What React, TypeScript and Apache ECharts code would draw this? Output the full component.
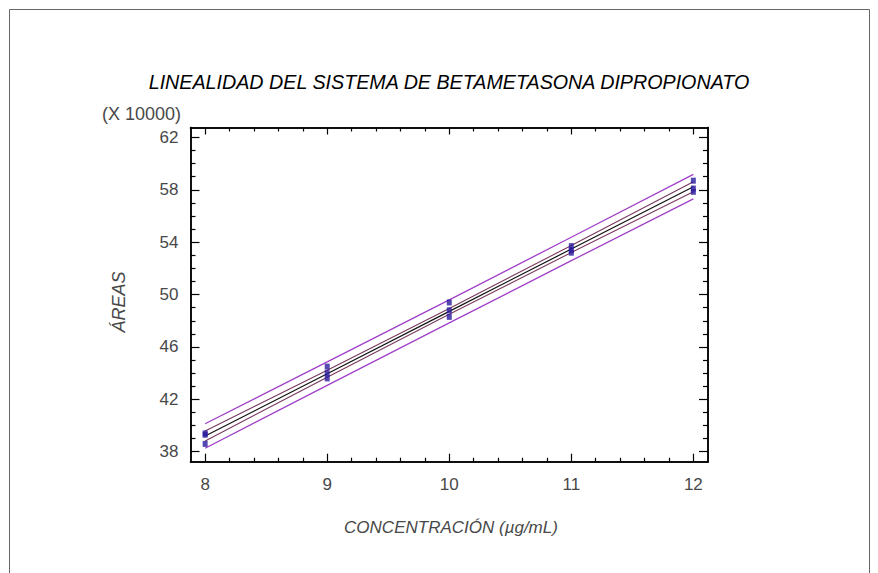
import React, { useEffect, useRef } from "react";
import * as echarts from "echarts";

// Measured data (areas in units of 10000)
const concentrations = [8, 8, 8, 9, 9, 9, 10, 10, 10, 11, 11, 11, 12, 12, 12];
const areas = [39.4, 39.3, 38.6, 44.5, 44.0, 43.6, 49.4, 48.8, 48.3, 53.7, 53.4, 53.2, 58.7, 58.1, 57.85];

// Fitted model and limits, read at each concentration
const lineX = [8, 9, 10, 11, 12];
const fitted = [39.2, 43.96, 48.72, 53.48, 58.24];
const lowerConf = [38.82, 43.69, 48.5, 53.21, 57.86];
const upperConf = [39.58, 44.23, 48.94, 53.75, 58.62];
const lowerPred = [38.27, 43.07, 47.84, 52.59, 57.31];
const upperPred = [40.14, 44.86, 49.6, 54.38, 59.18];

// Tick labels
const xMajor = [8, 9, 10, 11, 12];
const yMajor = [38, 42, 46, 50, 54, 58, 62];

const FONT = "'Liberation Sans', Arial, sans-serif";
const X_MIN = 7.88, X_MAX = 12.12, Y_MIN = 37.24, Y_MAX = 62.76;

const xMinor: number[] = [];
for (let i = 0; i <= 20; i++) {
  const v = Math.round((8 + i * 0.2) * 10) / 10;
  if (!xMajor.includes(v)) xMinor.push(v);
}
const yMinor: number[] = [];
for (let v = 38; v <= 62; v++) if (!yMajor.includes(v)) yMinor.push(v);

function mkX(position: string, ticks: number[], len: number, labels: boolean) {
  return {
    type: "value", position, min: X_MIN, max: X_MAX,
    axisLine: { show: true, onZero: false, lineStyle: { color: "#000", width: 1.5 } },
    axisTick: { show: true, inside: true, length: len, customValues: ticks, lineStyle: { color: "#000", width: 1.2 } },
    axisLabel: labels
      ? { show: true, customValues: ticks, fontSize: 17, color: "#484848", fontFamily: FONT, margin: 14 }
      : { show: false },
    splitLine: { show: false },
  };
}
function mkY(position: string, ticks: number[], len: number, labels: boolean) {
  return {
    type: "value", position, min: Y_MIN, max: Y_MAX,
    axisLine: { show: true, onZero: false, lineStyle: { color: "#000", width: 1.5 } },
    axisTick: { show: true, inside: true, length: len, customValues: ticks, lineStyle: { color: "#000", width: 1.2 } },
    axisLabel: labels
      ? { show: true, customValues: ticks, fontSize: 17, color: "#484848", fontFamily: FONT, margin: 12 }
      : { show: false },
    splitLine: { show: false },
  };
}

function lineSeries(ys: number[], color: string, width: number) {
  return {
    type: "line", xAxisIndex: 0, yAxisIndex: 0, showSymbol: false, symbol: "none",
    data: lineX.map((x, i) => [x, ys[i]]),
    lineStyle: { color, width }, silent: true, z: 2,
  };
}

export default function App() {
  const ref = useRef<HTMLDivElement>(null);
  useEffect(() => {
    if (!ref.current) return;
    const chart = echarts.init(ref.current, null, { renderer: "svg" });
    chart.setOption({
      animation: false,
      backgroundColor: "#fff",
      grid: { left: 190.5, right: 170, top: 127.5, bottom: 111.3, containLabel: false },
      xAxis: [
        mkX("bottom", xMajor, 8, true),
        mkX("bottom", xMinor, 4, false),
        mkX("top", xMajor, 7, false),
        mkX("top", xMinor, 4, false),
      ],
      yAxis: [
        mkY("left", yMajor, 9, true),
        mkY("left", yMinor, 5, false),
        mkY("right", yMajor, 9, false),
        mkY("right", yMinor, 5, false),
      ],
      series: [
        lineSeries(upperPred, "#a040c8", 1.3),
        lineSeries(lowerPred, "#a040c8", 1.3),
        lineSeries(upperConf, "#7a3a5e", 1.1),
        lineSeries(lowerConf, "#7a3a5e", 1.1),
        lineSeries(fitted, "#111", 1.2),
        {
          type: "scatter", xAxisIndex: 0, yAxisIndex: 0,
          symbol: "rect", symbolSize: [5, 6],
          itemStyle: { color: "#2a1a9e" },
          data: concentrations.map((x, i) => [x, areas[i]]),
          z: 3,
        },
      ],
      graphic: [
        {
          type: "rect", shape: { x: 9.5, y: 9.5, width: 860, height: 600 },
          style: { fill: "none", stroke: "#666", lineWidth: 1 }, silent: true,
        },
        {
          type: "text", x: 449, y: 82,
          style: {
            text: "LINEALIDAD DEL SISTEMA DE BETAMETASONA DIPROPIONATO",
            font: `italic 19.7px ${FONT}`, fill: "#000", textAlign: "center", textVerticalAlign: "middle",
          },
        },
        {
          type: "text", x: 181, y: 114,
          style: { text: "(X 10000)", font: `18px ${FONT}`, fill: "#484848", textAlign: "right", textVerticalAlign: "middle" },
        },
        {
          type: "text", x: 119, y: 302, rotation: Math.PI / 2,
          style: { text: "ÁREAS", font: `italic 18px ${FONT}`, fill: "#484848", textAlign: "center", textVerticalAlign: "middle" },
        },
        {
          type: "text", x: 451, y: 527,
          style: { text: "CONCENTRACIÓN (µg/mL)", font: `italic 17px ${FONT}`, fill: "#484848", textAlign: "center", textVerticalAlign: "middle" },
        },
      ],
    });
    return () => chart.dispose();
  }, []);
  return <div ref={ref} style={{ position: "fixed", left: 0, top: 0, width: 878, height: 573 }} />;
}
